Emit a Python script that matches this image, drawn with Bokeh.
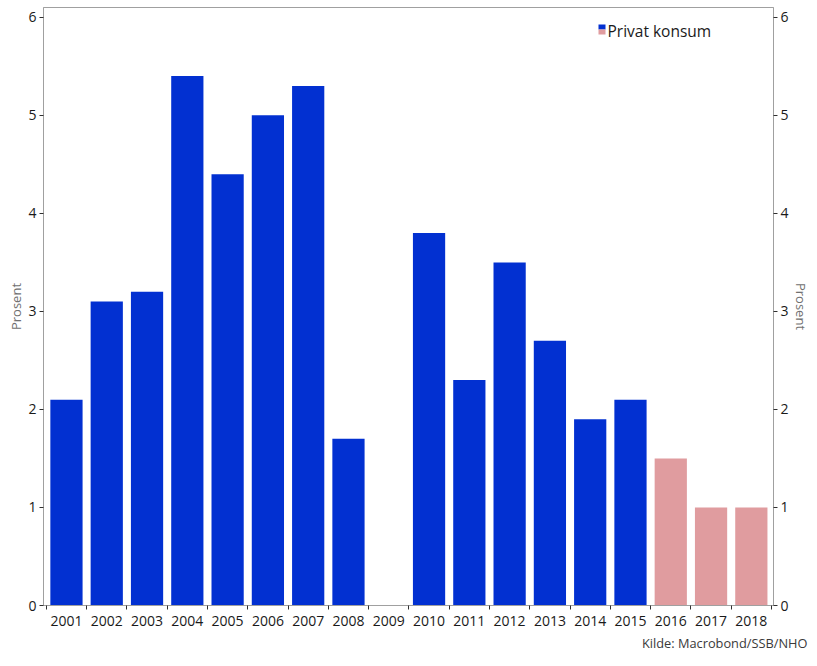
from bokeh.plotting import figure
from bokeh.models import (ColumnDataSource, FixedTicker, LinearAxis, Range1d,
                          BoxAnnotation, Label, Title)
from bokeh.embed import file_html
from bokeh.resources import INLINE

# ---- data ----
years = ["2001", "2002", "2003", "2004", "2005", "2006", "2007", "2008", "2009",
         "2010", "2011", "2012", "2013", "2014", "2015", "2016", "2017", "2018"]
values = [2.1, 3.1, 3.2, 5.4, 4.4, 5.0, 5.3, 1.7, 0.0,
          3.8, 2.3, 3.5, 2.7, 1.9, 2.1, 1.5, 1.0, 1.0]
first_forecast_year = 2016
y_ticks = [0, 1, 2, 3, 4, 5, 6]
series_name = "Privat konsum"
axis_title = "Prosent"
source_text = "Kilde: Macrobond/SSB/NHO"

BLUE = "#0230D1"
PINK = "#E09C9F"
FONT = "Open Sans"

xs = list(range(1, len(years) + 1))
colors = [PINK if int(y) >= first_forecast_year else BLUE for y in years]
src = ColumnDataSource(dict(x=xs, top=values, color=colors))

p = figure(width=817, height=666, output_backend="svg", toolbar_location=None,
           x_range=Range1d(0.43, len(years) + 0.55), y_range=Range1d(0, 6.1),
           min_border_left=43, min_border_right=44, min_border_top=7,
           min_border_bottom=61, y_axis_location="left")
p.background_fill_color = "white"
p.border_fill_color = "white"
p.outline_line_color = "#a0a0a0"
p.grid.visible = False

p.vbar(x="x", top="top", width=0.8, bottom=0, color="color", line_color=None,
       source=src)

# x axis: labels at centres, ticks at boundaries
xa = p.xaxis[0]
xa.ticker = FixedTicker(ticks=xs, minor_ticks=[x - 0.5 for x in xs] + [xs[-1] + 0.5])
xa.major_label_overrides = {x: y for x, y in zip(xs, years)}
xa.major_tick_out = 0
xa.major_tick_in = 0
xa.minor_tick_out = 4
xa.minor_tick_in = 0
xa.minor_tick_line_color = "#303030"
xa.axis_line_color = "#a0a0a0"
xa.major_label_standoff = 6
xa.major_label_text_font = FONT
xa.major_label_text_font_size = "14px"
xa.major_label_text_color = "#1a1a1a"

def style_y(ax):
    ax.ticker = FixedTicker(ticks=y_ticks)
    ax.major_tick_out = 4
    ax.major_tick_in = 0
    ax.minor_tick_out = 0
    ax.minor_tick_in = 0
    ax.major_tick_line_color = "#303030"
    ax.axis_line_color = "#a0a0a0"
    ax.major_label_standoff = 3
    ax.major_label_text_font = FONT
    ax.major_label_text_font_size = "14px"
    ax.major_label_text_color = "#1a1a1a"
    ax.axis_label = axis_title
    ax.axis_label_text_font = FONT
    ax.axis_label_text_font_size = "13px"
    ax.axis_label_text_font_style = "normal"
    ax.axis_label_text_color = "#707070"
    ax.axis_label_standoff = 0

style_y(p.yaxis[0])
ra = LinearAxis()
style_y(ra)
p.add_layout(ra, "right")

# legend (two-coloured marker + text), positioned in screen units
p.add_layout(BoxAnnotation(left=555, right=562, bottom=576, top=581,
                           left_units="screen", right_units="screen",
                           bottom_units="screen", top_units="screen",
                           fill_color=BLUE, fill_alpha=1, line_color=None))
p.add_layout(BoxAnnotation(left=555, right=562, bottom=571, top=576,
                           left_units="screen", right_units="screen",
                           bottom_units="screen", top_units="screen",
                           fill_color=PINK, fill_alpha=1, line_color=None))
p.add_layout(Label(x=564, y=575, x_units="screen", y_units="screen",
                   text=series_name, text_font=FONT, text_font_size="15.5px",
                   text_color="#1a1a1a", text_baseline="alphabetic"))

foot = Title(text=source_text, align="right", offset=-34,
             text_font=FONT, text_font_size="12.8px", text_font_style="normal",
             text_color="#3a3a3a", standoff=7)
p.add_layout(foot, "below")

open("out.html", "w").write(file_html(p, INLINE))
